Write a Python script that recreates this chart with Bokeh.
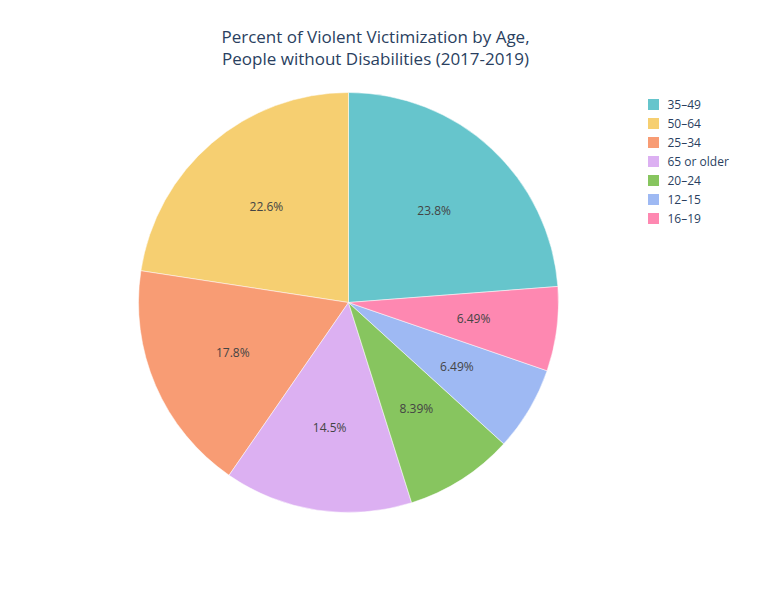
import numpy as np
from bokeh.plotting import figure
from bokeh.models import ColumnDataSource
from bokeh.core.properties import value
from bokeh.embed import file_html
from bokeh.resources import INLINE

labels = ["35–49", "50–64", "25–34", "65 or older", "20–24", "12–15", "16–19"]
values = [23.8, 22.6, 17.8, 14.5, 8.39, 6.49, 6.49]
pct_text = ["23.8%", "22.6%", "17.8%", "14.5%", "8.39%", "6.49%", "6.49%"]
colors = ["#66C5CC", "#F6CF71", "#F89C74", "#DCB0F2", "#87C55F", "#9EB9F3", "#FE88B1"]

W, H = 752, 584
cx, cy, r = 348, 282, 210

v = np.array(values) / sum(values) * 2 * np.pi
base = np.pi / 2 - v[0]
starts = base + np.concatenate([[0], np.cumsum(v)[:-1]])
ends = starts + v
mids = (starts + ends) / 2

src = ColumnDataSource(dict(s=starts, e=ends, c=colors,
                            lx=cx + 0.6 * r * np.cos(mids), ly=cy + 0.6 * r * np.sin(mids), t=pct_text))

p = figure(width=W, height=H, x_range=(0, W), y_range=(0, H), output_backend="svg",
           toolbar_location=None, min_border=0)
p.axis.visible = False
p.grid.visible = False
p.outline_line_color = None

p.wedge(x=cx, y=cy, radius=r, start_angle="s", end_angle="e", fill_color="c",
        line_color="white", line_width=0.5, source=src)
p.text(x="lx", y="ly", text="t", source=src, text_align="center", text_baseline="middle",
       text_font=value("Open Sans"), text_font_size="12px", text_color="#444444")

p.text(x=[375, 375], y=[H - 36, H - 58],
       text=["Percent of Violent Victimization by Age,", "People without Disabilities (2017-2019)"],
       text_align="center", text_baseline="middle", text_font=value("Open Sans"),
       text_font_size="17px", text_color="#2a3f5f")

ly = [H - (104 + 19 * i) for i in range(len(labels))]
p.rect(x=[653] * len(labels), y=ly, width=11, height=11, fill_color=colors, line_color=None)
p.text(x=[667] * len(labels), y=ly, text=labels, text_baseline="middle",
       text_font=value("Open Sans"), text_font_size="12px", text_color="#2a3f5f")

open("out.html", "w").write(file_html(p, INLINE))
